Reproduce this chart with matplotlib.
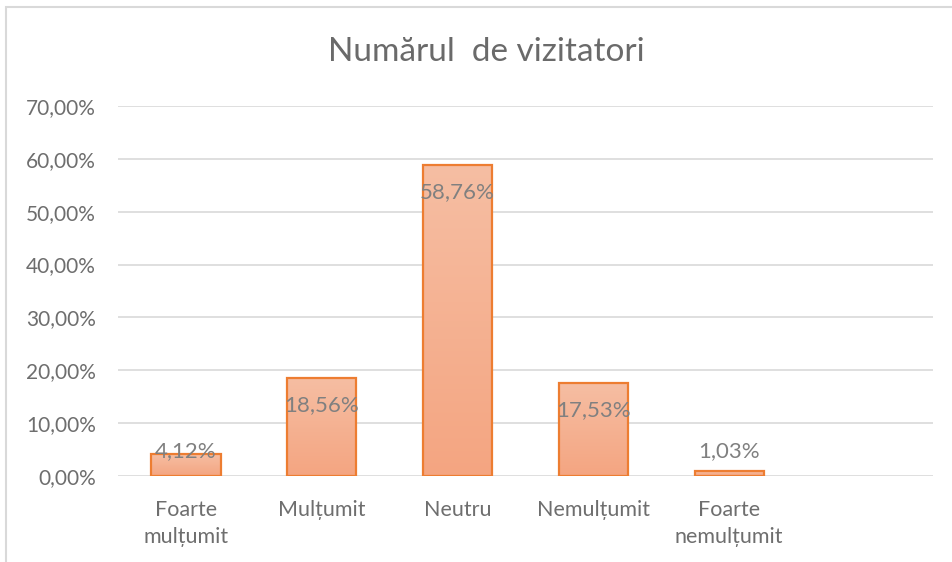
import matplotlib.pyplot as plt
import numpy as np
from matplotlib.colors import LinearSegmentedColormap
from matplotlib.patches import Rectangle

# data
categories = ['Foarte\nmulțumit', 'Mulțumit', 'Neutru', 'Nemulțumit', 'Foarte\nnemulțumit', '']
values = [4.12, 18.56, 58.76, 17.53, 1.03]
value_labels = ['4,12%', '18,56%', '58,76%', '17,53%', '1,03%']
y_ticks = [0, 10, 20, 30, 40, 50, 60, 70]
y_tick_labels = ['0,00%', '10,00%', '20,00%', '30,00%', '40,00%', '50,00%', '60,00%', '70,00%']

plt.rcParams['font.family'] = ['Lato', 'DejaVu Sans']

fig = plt.figure(figsize=(9.52, 5.62), dpi=100)
ax = fig.add_axes([118 / 952, 1 - 476 / 562, (933 - 118) / 952, (476 - 106) / 562])

# chart frame (Excel chart area border)
fig.patches.append(Rectangle((6 / 952, -0.1), 1.2, 1 - 7 / 562 + 0.1,
                             transform=fig.transFigure, fill=False,
                             edgecolor='#D9D9D9', linewidth=1.5))

# gradient bars: light on top, darker at bottom
cmap = LinearSegmentedColormap.from_list('grad', ['#F4A581', '#F6BEA3'])
grad = np.linspace(0, 1, 256).reshape(-1, 1)
x = np.arange(len(values))
bars = ax.bar(x, values, width=0.51, facecolor='none', edgecolor='#ED7D31',
              linewidth=1.6, zorder=3)
for b in bars:
    x0, y0 = b.get_x(), b.get_y()
    im = ax.imshow(grad, cmap=cmap, aspect='auto', origin='lower',
                   extent=[x0, x0 + b.get_width(), y0, y0 + b.get_height()],
                   zorder=2)
    im.set_clip_path(b)

# value labels (inside end, pushed up for short bars)
for xi, v, lab in zip(x, values, value_labels):
    ax.annotate(lab, (xi, max(v, 9.8)), xytext=(0, -19.4),
                textcoords='offset points', ha='center', va='center',
                fontsize=16, color='#808080', zorder=5)

ax.set_xlim(-0.5, 5.5)
ax.set_ylim(0, 70)
ax.set_yticks(y_ticks)
ax.set_yticklabels(y_tick_labels, fontsize=15)
ax.set_xticks(np.arange(len(categories)))
ax.set_xticklabels(categories, linespacing=1.45, fontsize=15.5)
ax.tick_params(axis='both', length=0, colors='#6E6E6E')
ax.tick_params(axis='x', pad=17)
ax.tick_params(axis='y', pad=16)
ax.grid(axis='y', color='#D9D9D9', linewidth=1.2, zorder=0)
ax.set_axisbelow(True)
for s in ax.spines.values():
    s.set_visible(False)

fig.text(486 / 952, 1 - 52 / 562, 'Numărul  de vizitatori', ha='center',
         va='center', fontsize=24, color='#6A6A6A')

fig.savefig('out.png', dpi=100)
